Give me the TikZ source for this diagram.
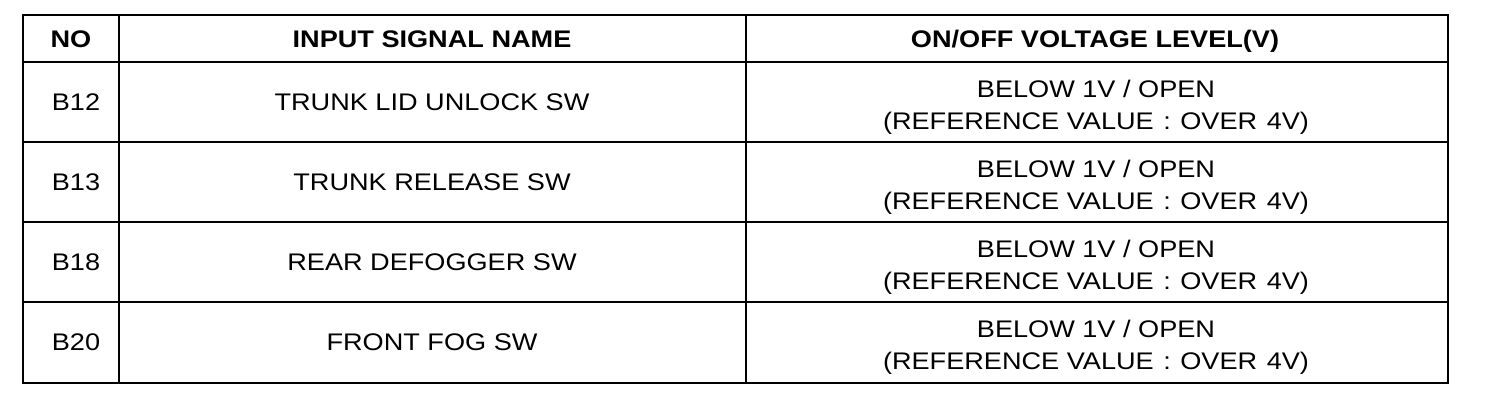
\documentclass[tikz,border=0pt]{standalone}
\usepackage{fontspec}
\setmainfont{Liberation Sans}[FakeStretch=1.13]
\begin{document}
\begin{tikzpicture}[x=1pt,y=-1pt,
  grid/.style={line width=2pt,black},
  hd/.style={font=\fontsize{24}{32}\selectfont\bfseries,inner sep=0pt,text height=17.2pt,text depth=0pt,align=center},
  cell/.style={font=\fontsize{24}{32}\selectfont,inner sep=0pt,text height=17.2pt,text depth=0pt,align=center}]
\useasboundingbox (0,0) rectangle (1504,410);
\fill[white] (0,0) rectangle (1504,410);
% grid
\draw[grid] (23,15) rectangle (1448,383);
\draw[grid] (23,62) -- (1448,62);
\draw[grid] (23,142) -- (1448,142);
\draw[grid] (23,222) -- (1448,222);
\draw[grid] (23,302) -- (1448,302);
\draw[grid] (119,15) -- (119,383);
\draw[grid] (746,15) -- (746,383);
% header
\node[hd] (hno) at (71,39) {NO};
\node[hd] (hname) at (432,39) {INPUT SIGNAL NAME};
\node[hd] (hvolt) at (1095,39) {ON/OFF VOLTAGE LEVEL(V)};
% rows (two-line nodes: position is the centre of the last line)
\node[cell] (n1) at (76,102) {B12};
\node[cell] (s1) at (432,102) {TRUNK LID UNLOCK SW};
\node[cell] (v1) at (1096,121) {BELOW 1V / OPEN\\(REFERENCE VALUE\hspace{2pt} :\hspace{2pt} OVER\hspace{2pt} 4V)};
\node[cell] (n2) at (76,182) {B13};
\node[cell] (s2) at (432,182) {TRUNK RELEASE SW};
\node[cell] (v2) at (1096,201) {BELOW 1V / OPEN\\(REFERENCE VALUE\hspace{2pt} :\hspace{2pt} OVER\hspace{2pt} 4V)};
\node[cell] (n3) at (76,262) {B18};
\node[cell] (s3) at (432,262) {REAR DEFOGGER SW};
\node[cell] (v3) at (1096,281) {BELOW 1V / OPEN\\(REFERENCE VALUE\hspace{2pt} :\hspace{2pt} OVER\hspace{2pt} 4V)};
\node[cell] (n4) at (76,342) {B20};
\node[cell] (s4) at (432,342) {FRONT FOG SW};
\node[cell] (v4) at (1096,361) {BELOW 1V / OPEN\\(REFERENCE VALUE\hspace{2pt} :\hspace{2pt} OVER\hspace{2pt} 4V)};
\end{tikzpicture}
\end{document}
